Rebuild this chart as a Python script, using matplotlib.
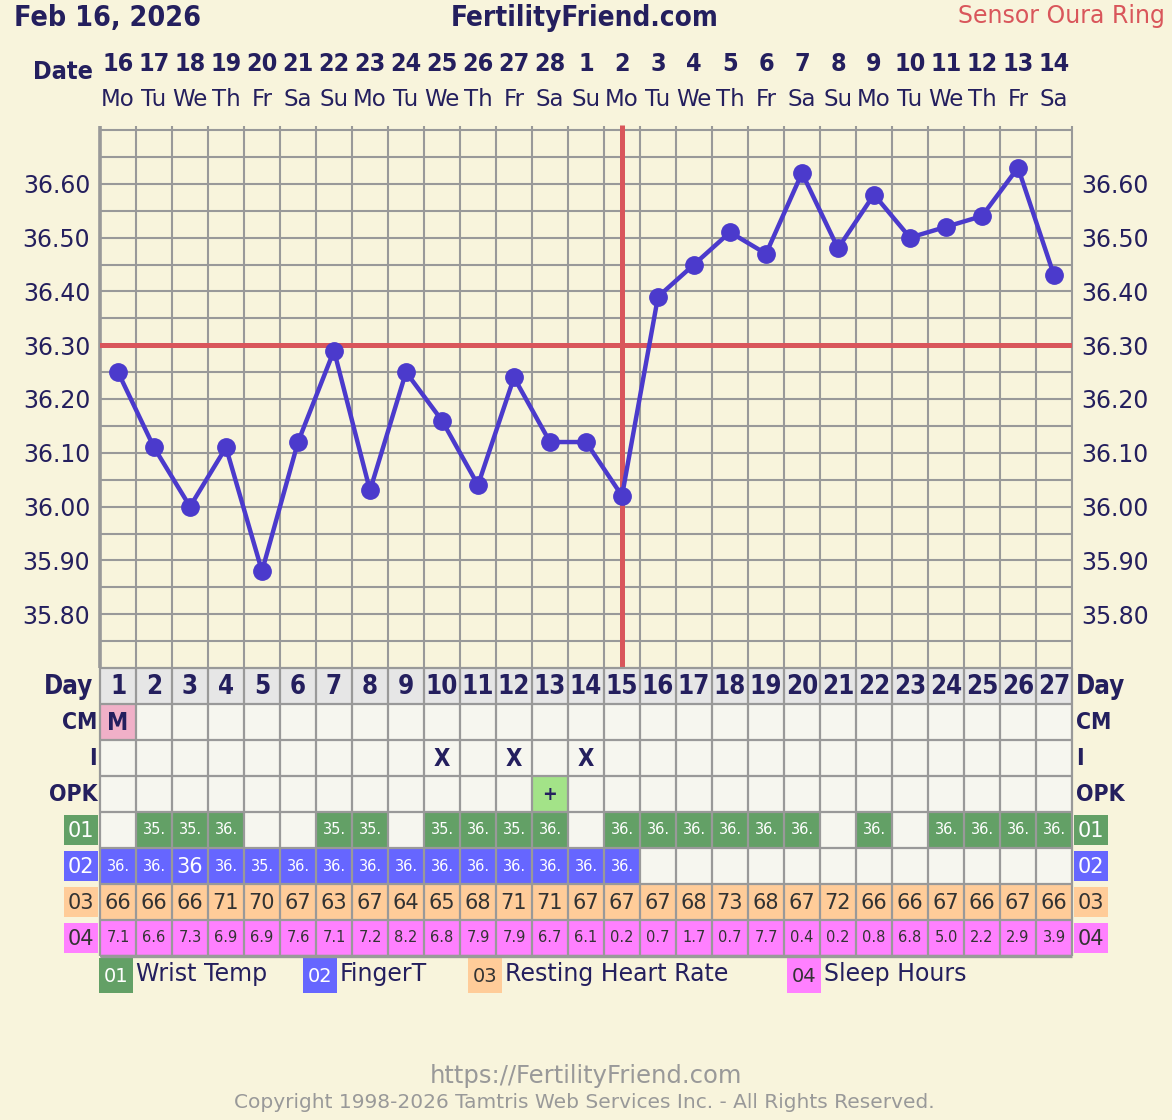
import numpy as np
import matplotlib.pyplot as plt
from matplotlib.patches import Rectangle
from matplotlib.transforms import blended_transform_factory

# ============================================================
# Chart Data
# ============================================================

cycle_days = list(range(1, 28))

dates = ["16", "17", "18", "19", "20", "21", "22", "23", "24", "25", "26",
         "27", "28", "1", "2", "3", "4", "5", "6", "7", "8", "9", "10",
         "11", "12", "13", "14"]

weekdays = (["Mo", "Tu", "We", "Th", "Fr", "Sa", "Su"] * 4)[:27]

temps = [36.25, 36.11, 36.00, 36.11, 35.88, 36.12, 36.29, 36.03, 36.25,
         36.16, 36.04, 36.24, 36.12, 36.12, 36.02, 36.39, 36.45, 36.51,
         36.47, 36.62, 36.48, 36.58, 36.50, 36.52, 36.54, 36.63, 36.43]

coverline = 36.30
ovulation_day = 15

y_labels = [35.80, 35.90, 36.00, 36.10, 36.20, 36.30, 36.40, 36.50, 36.60]

cm_marks = {1: "M"}
intercourse_days = [10, 12, 14]
opk_marks = {13: "+"}

wrist_temp = ["", "35.", "35.", "36.", "", "", "35.", "35.", "", "35.",
              "36.", "35.", "36.", "", "36.", "36.", "36.", "36.", "36.",
              "36.", "", "36.", "", "36.", "36.", "36.", "36."]

finger_temp = ["36.", "36.", "36", "36.", "35.", "36.", "36.", "36.", "36.",
               "36.", "36.", "36.", "36.", "36.", "36."] + [""] * 12

resting_hr = [66, 66, 66, 71, 70, 67, 63, 67, 64, 65, 68, 71, 71, 67, 67,
              67, 68, 73, 68, 67, 72, 66, 66, 67, 66, 67, 66]

sleep_hours = [7.1, 6.6, 7.3, 6.9, 6.9, 7.6, 7.1, 7.2, 8.2, 6.8, 7.9, 7.9,
               6.7, 6.1, 0.2, 0.7, 1.7, 0.7, 7.7, 0.4, 0.2, 0.8, 6.8, 5.0,
               2.2, 2.9, 3.9]

legend_codes = ["01", "02", "03", "04"]
legend_labels = ["Wrist Temp", "FingerT", "Resting Heart Rate", "Sleep Hours"]

# ============================================================
# Colours
# ============================================================

BG = "#f8f4dc"
NAVY = "#241f5e"
GRID = "#999999"
RED = "#d9565b"
LINE = "#4b3acc"
CELL = "#f6f6ef"
DAYCELL = "#e6e6e6"
GREEN = "#63a066"
BLUE = "#6666ff"
PEACH = "#ffcc99"
MAGENTA = "#ff80ff"
PINK = "#f0b0c8"
OPKGREEN = "#a3e388"

BOLD = dict(weight="bold", fontstretch="condensed", color=NAVY)

# ============================================================
# Figure Layout (pixel boxes)
# ============================================================

W, H = 1172, 1120

fig = plt.figure(figsize=(W / 100, H / 100), dpi=100, facecolor=BG)


def box(x0, y0, x1, y1):
    return [x0 / W, 1 - y1 / H, (x1 - x0) / W, (y1 - y0) / H]


ax_px = fig.add_axes([0, 0, 1, 1], zorder=-1)
ax_px.set_xlim(0, W)
ax_px.set_ylim(H, 0)
ax_px.axis("off")

ax = fig.add_axes(box(100, 130, 1072, 668))
ax_tab = fig.add_axes(box(100, 668, 1072, 956))

# ============================================================
# Temperature Chart
# ============================================================

ax.set_facecolor(BG)
ax.set_xlim(0.5, 27.5)
ax.set_ylim(35.70, 36.70)

for s in ax.spines.values():
    s.set_visible(False)

ax.set_xticks([])
ax.set_yticks(y_labels)
ax.set_yticklabels([f"{v:.2f}" for v in y_labels])
ax.tick_params(axis="y", length=0, pad=7, labelsize=17, labelcolor=NAVY,
               labelleft=True, labelright=True)

ax.hlines(np.arange(35.75, 36.7001, 0.05), 0.5, 27.5,
          color=GRID, lw=1.5, clip_on=False, zorder=1)
ax.vlines(np.arange(0.5, 27.6, 1), 35.70, 36.708,
          color=GRID, lw=1.5, clip_on=False, zorder=1)
ax.vlines(0.5, 35.70, 36.708, color=GRID, lw=2.6, clip_on=False, zorder=1)

ax.axhline(coverline, color=RED, lw=3.6, zorder=3)
ax.vlines(ovulation_day, 35.70, 36.71, color=RED, lw=3.6,
          clip_on=False, zorder=3)

ax.plot(cycle_days, temps, color=LINE, lw=3.2, marker="o",
        markersize=12.5, zorder=4)

# ------------------------------------------------------------
# Date header
# ------------------------------------------------------------

hdr = blended_transform_factory(ax.transData, ax_px.transData)

for d, date, wd in zip(cycle_days, dates, weekdays):
    ax.text(d, 64, date, transform=hdr, ha="center", va="center",
            fontsize=18, **BOLD)
    ax.text(d, 100, wd, transform=hdr, ha="center", va="center",
            fontsize=16.5, color=NAVY)

ax_px.text(93, 72, "Date", ha="right", va="center", fontsize=18, **BOLD)

# ============================================================
# Table
# ============================================================

ax_tab.set_xlim(0.5, 27.5)
ax_tab.set_ylim(8, 0)
ax_tab.axis("off")


def cell(day, row, color):
    ax_tab.add_patch(Rectangle((day - 0.5, row), 1, 1,
                               facecolor=color, edgecolor="none"))


for d in cycle_days:
    cell(d, 0, DAYCELL)
    ax_tab.text(d, 0.52, str(d), ha="center", va="center",
                fontsize=18.5, **BOLD)
    for r in range(1, 8):
        cell(d, r, CELL)

for d, mark in cm_marks.items():
    cell(d, 1, PINK)
    ax_tab.text(d, 1.52, mark, ha="center", va="center", fontsize=17, **BOLD)

for d in intercourse_days:
    ax_tab.text(d, 2.52, "X", ha="center", va="center", fontsize=17, **BOLD)

for d, mark in opk_marks.items():
    cell(d, 3, OPKGREEN)
    ax_tab.text(d, 3.52, mark, ha="center", va="center", fontsize=14, **BOLD)

for d, v in zip(cycle_days, wrist_temp):
    if v:
        cell(d, 4, GREEN)
        ax_tab.text(d, 4.5, v, ha="center", va="center", fontsize=10.5,
                    color="white")

for d, v in zip(cycle_days, finger_temp):
    if v:
        cell(d, 5, BLUE)
        ax_tab.text(d, 5.52, v, ha="center", va="center",
                    fontsize=10.5 if v.endswith(".") else 15, color="white")

for d, v in zip(cycle_days, resting_hr):
    cell(d, 6, PEACH)
    ax_tab.text(d, 6.52, str(v), ha="center", va="center", fontsize=15,
                color="#333333")

for d, v in zip(cycle_days, sleep_hours):
    cell(d, 7, MAGENTA)
    ax_tab.text(d, 7.5, f"{v:.1f}", ha="center", va="center", fontsize=10.5,
                color="#333333")

ax_tab.hlines(range(0, 9), 0.5, 27.5, color=GRID, lw=1.6, clip_on=False)
ax_tab.vlines(np.arange(0.5, 27.6, 1), 0, 8, color=GRID, lw=1.6,
              clip_on=False)
ax_tab.hlines(8, 0.5, 27.5, color=GRID, lw=2.4, clip_on=False)

# ------------------------------------------------------------
# Row labels on both sides
# ------------------------------------------------------------

row_names = ["Day", "CM", "I", "OPK"]
for r, name in enumerate(row_names):
    left_x = 0.31 if name == "Day" else 0.42
    size = 18.5 if name == "Day" else 16.5
    ax_tab.text(left_x, r + 0.52, name, ha="right", va="center",
                fontsize=size, **BOLD)
    ax_tab.text(27.61, r + 0.52, name, ha="left", va="center",
                fontsize=size, **BOLD)

code_colors = [GREEN, BLUE, PEACH, MAGENTA]
code_text = ["white", "white", "#333333", "#333333"]

for i, (code, fc, tc) in enumerate(zip(legend_codes, code_colors, code_text)):
    r = 4 + i
    for x0 in (-0.5, 27.56):
        ax_tab.add_patch(Rectangle((x0, r + 0.07), 0.944, 0.86, facecolor=fc,
                                   edgecolor="none", clip_on=False))
        ax_tab.text(x0 + 0.472, r + 0.52, code, ha="center", va="center",
                    fontsize=15, color=tc)

# ============================================================
# Legend
# ============================================================

legend_x = [99, 303, 468, 787]

for x0, code, label, fc, tc in zip(legend_x, legend_codes, legend_labels,
                                   code_colors, code_text):
    ax_px.add_patch(Rectangle((x0, 958), 34, 35, facecolor=fc,
                              edgecolor="none"))
    ax_px.text(x0 + 17, 976, code, ha="center", va="center", fontsize=14,
               color=tc)
    ax_px.text(x0 + 37, 974, label, ha="left", va="center", fontsize=17,
               color=NAVY)

# ============================================================
# Titles and Footer
# ============================================================

ax_px.text(14, 18, "Feb 16, 2026", ha="left", va="center", fontsize=20.5,
           **BOLD)
ax_px.text(585, 18, "FertilityFriend.com", ha="center", va="center",
           fontsize=20, **BOLD)
ax_px.text(1165, 16, "Sensor Oura Ring", ha="right", va="center",
           fontsize=17, color=RED)

ax_px.text(586, 1076, "https://FertilityFriend.com", ha="center",
           va="center", fontsize=17.5, color="#999999")
ax_px.text(584, 1103,
           "Copyright 1998-2026 Tamtris Web Services Inc. - All Rights Reserved.",
           ha="center", va="center", fontsize=14.5, color="#999999")

fig.savefig("out.png", dpi=100, facecolor=BG)
